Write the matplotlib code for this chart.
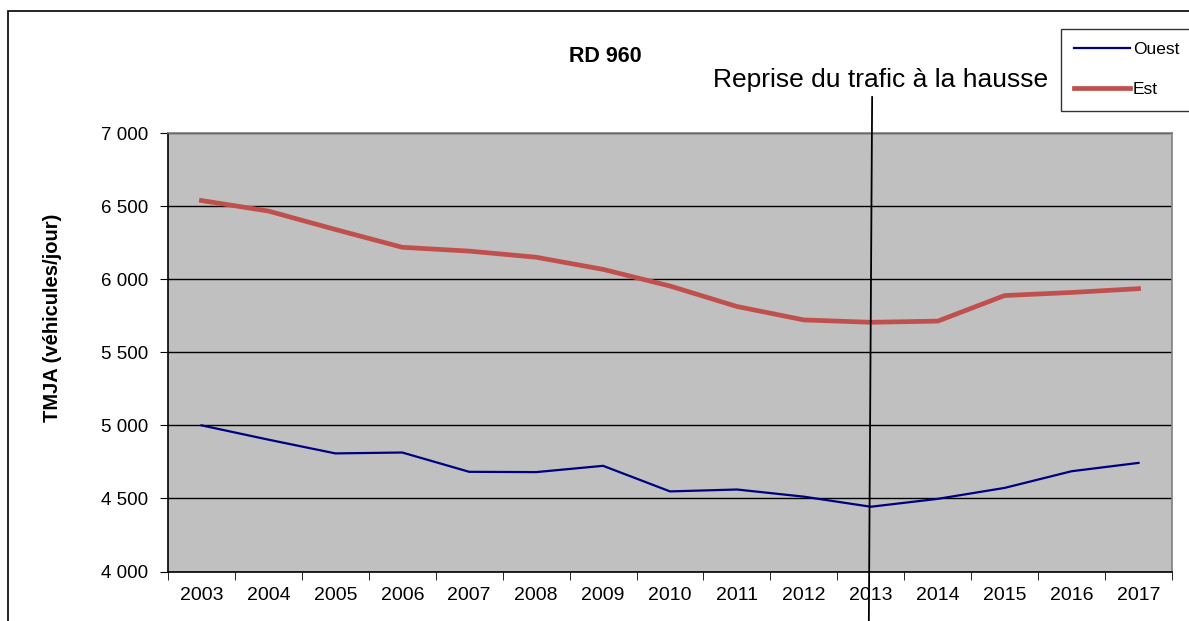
import numpy as np
import matplotlib
matplotlib.use("Agg")
import matplotlib.pyplot as plt
from matplotlib.patches import Rectangle

plt.rcParams['font.family'] = ['Liberation Sans', 'DejaVu Sans']

years = ['2003', '2004', '2005', '2006', '2007', '2008', '2009', '2010',
         '2011', '2012', '2013', '2014', '2015', '2016', '2017']
ouest = [5000, 4902, 4808, 4814, 4682, 4680, 4723, 4548, 4561, 4512, 4443, 4497, 4572, 4686, 4743]
est = [6538, 6466, 6340, 6218, 6192, 6150, 6067, 5953, 5813, 5721, 5705, 5713, 5888, 5909, 5935]
yticks = [4000, 4500, 5000, 5500, 6000, 6500, 7000]
event_year = '2013'

fig = plt.figure(figsize=(11.89, 6.21), dpi=100)
ax = fig.add_axes([168 / 1189, 1 - 571.5 / 621, 1004 / 1189, 438.5 / 621])
ax.set_facecolor('#C0C0C0')

x = np.arange(len(years))
ax.plot(x, ouest, color='#000080', lw=1.6, label='Ouest', zorder=3)
ax.plot(x, est, color='#C0504D', lw=3.4, label='Est', zorder=3)

ax.set_xlim(-0.5, len(years) - 0.5)
ax.set_ylim(4000, 7000)
ax.set_yticks(yticks)
ax.set_yticklabels(['{:,}'.format(v).replace(',', ' ') for v in yticks])
ax.yaxis.grid(True, color='black', lw=1)
ax.set_axisbelow(True)

# category labels centred, tick marks between categories
ax.set_xticks(x)
ax.set_xticklabels(years)
ax.set_xticks(np.arange(-0.5, len(years)), minor=True)
ax.tick_params(axis='x', which='major', length=0, pad=11, labelsize=14)
ax.tick_params(axis='x', which='minor', length=6, color='black')
ax.tick_params(axis='y', length=6, pad=8, labelsize=13.5, color='black')

ax.spines['left'].set_color('black')
ax.spines['bottom'].set_color('black')
ax.spines['top'].set_color('#808080')
ax.spines['right'].set_color('#808080')
for s in ax.spines.values():
    s.set_linewidth(1.2)

ax.set_ylabel('TMJA (véhicules/jour)', fontsize=14.5, fontweight='bold')
ax.yaxis.set_label_coords(-106 / 1004, 0.578)

fig.text(605 / 1189, 1 - 57 / 621, 'RD 960', fontsize=15.5, fontweight='bold',
         ha='center', va='center')

# annotation: vertical line at 2013
xi = years.index(event_year)
ax.plot([xi + 0.02, xi - 0.03], [7246, 3600], color='black', lw=1.3, clip_on=False, zorder=4)
fig.text(881 / 1189, 1 - 80 / 621, 'Reprise du trafic à la hausse', fontsize=19,
         ha='center', va='center')

leg = fig.legend(loc='upper left', bbox_to_anchor=(1061 / 1189, 1 - 29 / 621),
                 frameon=True, fancybox=False, edgecolor='black', fontsize=12.5,
                 handlelength=3.2, labelspacing=1.45, borderpad=0.75,
                 handletextpad=0.2, borderaxespad=0)
leg.get_frame().set_linewidth(1.0)

# outer chart border
fig.add_artist(Rectangle((8 / 1189, -0.1), 1.2, 1.1 - 11 / 621, transform=fig.transFigure,
                         fill=False, edgecolor='black', lw=1.2))

fig.savefig('out.png', dpi=100)
